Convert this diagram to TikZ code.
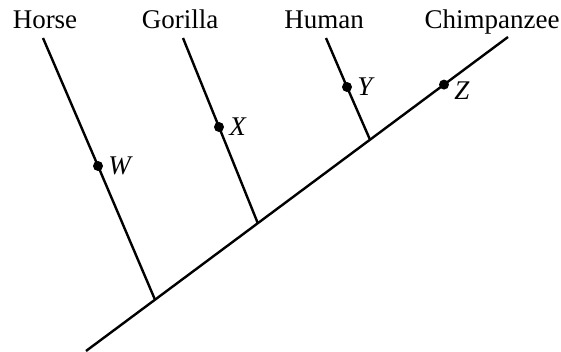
\documentclass[tikz,border=0pt]{standalone}
\usepackage{fontspec}
\setmainfont{Liberation Serif}
\usetikzlibrary{positioning}

\begin{document}
\begin{tikzpicture}[
  x=0.5pt, y=-0.5pt,
  branch/.style={line width=1.2pt},
  taxon/.style={font=\fontsize{13.5}{15}\selectfont, anchor=base},
  event/.style={circle, fill, inner sep=0pt, minimum size=5pt},
  tag/.style={font=\fontsize{13.5}{15}\selectfont\itshape, label distance=-1pt}
]
  \useasboundingbox (0,0) rectangle (561,352);
  % Taxa names along the top
  \node[taxon] (horse)   at (45,29)  {Horse};
  \node[taxon] (gorilla) at (180,29) {Gorilla};
  \node[taxon] (human)   at (324,29) {Human};
  \node[taxon] (chimp)   at (492,29) {Chimpanzee};
  % Branch tips and junctions on the main line
  \coordinate (th) at (43,38);
  \coordinate (tg) at (183,38);
  \coordinate (tu) at (326,38);
  \coordinate (tc) at (508,37);
  \coordinate (root) at (86,351);
  \coordinate (jh) at (155,299.7);
  \coordinate (jg) at (257.8,223.2);
  \coordinate (ju) at (370,139.7);
  % Marked events
  \node[event, label={[tag]right:W}] (w) at (98,166) {};
  \node[event, label={[tag]right:X}] (x) at (219,127) {};
  \node[event, label={[tag]right:Y}] (y) at (347,87) {};
  \node[event, label={[tag, yshift=-3pt]right:Z}] (z) at (444,84.6) {};
  % Main line and side branches
  \draw[branch] (root) -- (jh) -- (jg) -- (ju) -- (z.center) -- (tc);
  \draw[branch] (th) -- (w.center) -- (jh);
  \draw[branch] (tg) -- (x.center) -- (jg);
  \draw[branch] (tu) -- (y.center) -- (ju);
\end{tikzpicture}
\end{document}
